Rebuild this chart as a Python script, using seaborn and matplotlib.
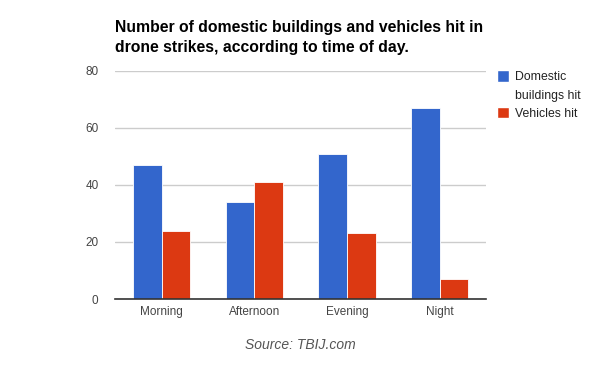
import pandas as pd
import matplotlib.pyplot as plt
import seaborn as sns
from matplotlib.patches import Patch

sns.set_style("white")
plt.rcParams["font.family"] = ["Liberation Sans", "DejaVu Sans"]

# Data
times = ["Morning", "Afternoon", "Evening", "Night"]
buildings = [47, 34, 51, 67]
vehicles = [24, 41, 23, 7]
series = ["Domestic buildings hit", "Vehicles hit"]
colors = ["#3366cc", "#dc3912"]

df = pd.DataFrame({
    "Time": times * 2,
    "Hits": buildings + vehicles,
    "Series": [series[0]] * len(times) + [series[1]] * len(times),
})

fig = plt.figure(figsize=(6, 3.71), dpi=100)
ax = fig.add_axes([0.192, 0.194, 0.618, 0.615])

sns.barplot(data=df, x="Time", y="Hits", hue="Series", palette=colors,
            saturation=1, width=0.62, edgecolor="white", linewidth=0.6,
            legend=False, ax=ax)

ax.set_ylim(0, 80)
ax.set_yticks([0, 20, 40, 60, 80])
ax.yaxis.grid(True, color="#cccccc", linewidth=1)
ax.set_axisbelow(True)
for s in ["top", "right", "left"]:
    ax.spines[s].set_visible(False)
ax.spines["bottom"].set_color("#333333")
ax.spines["bottom"].set_linewidth(1.2)
ax.tick_params(axis="both", length=0, labelsize=8.5, colors="#444444")
ax.tick_params(axis="y", pad=12)
ax.tick_params(axis="x", pad=5)
ax.set_xlabel("")
ax.set_ylabel("")

# Legend to the right, square aligned with the first line of the wrapped label
handles = [Patch(facecolor=colors[0]), Patch(facecolor="none", edgecolor="none"),
           Patch(facecolor=colors[1])]
labels = ["Domestic", "buildings hit", "Vehicles hit"]
fig.legend(handles, labels, loc="upper left", bbox_to_anchor=(0.81, 0.84),
           frameon=False, fontsize=8.8, handlelength=0.95, handleheight=1.1,
           handletextpad=0.55, labelspacing=0.42, labelcolor="#222222")

fig.text(0.192, 0.945, "Number of domestic buildings and vehicles hit in\n"
         "drone strikes, according to time of day.",
         fontsize=11.3, fontweight="bold", ha="left", va="top",
         color="black", linespacing=1.4)
fig.text(0.5, 0.07, "Source: TBIJ.com", fontsize=10, style="italic",
         color="#555555", ha="center", va="center")

plt.savefig("out.png", dpi=100)
plt.close()
